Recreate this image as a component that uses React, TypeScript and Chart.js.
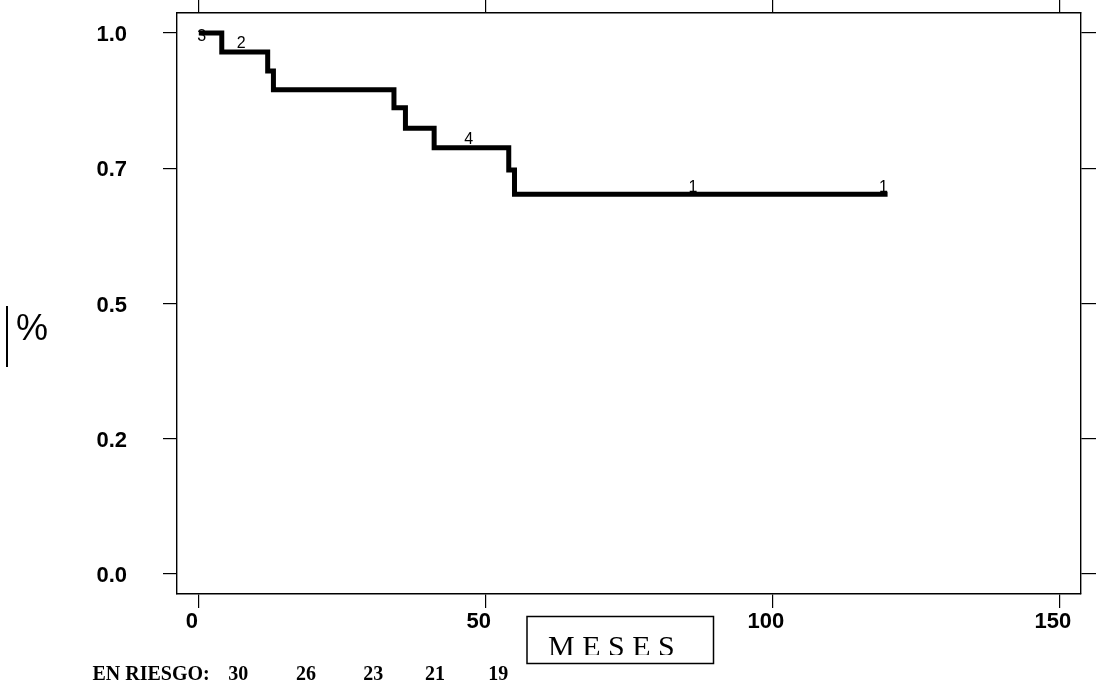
import React, { useEffect, useRef } from "react";
import { Chart, registerables } from "chart.js";

Chart.register(...registerables);

const xTicks = [0, 50, 100, 150];
const yTicks = [0, 0.25, 0.5, 0.75, 1];
const yTickLabels = ["0.0", "0.2", "0.5", "0.7", "1.0"];

const eventTimes = [0, 4, 12, 13, 34, 36, 41, 54, 55, 120];
const survival = [1.0, 0.965, 0.93, 0.895, 0.862, 0.824, 0.788, 0.747, 0.702, 0.702];

const censorLabels = ["3", "2", "4", "1", "1"];
const censorTimes = [0.5, 7.4, 47, 86.1, 119.3];
const censorSurv = [0.994, 0.981, 0.803, 0.715, 0.715];

const riskTitle = "EN RIESGO:";
const atRisk = [30, 26, 23, 21, 19];
const xTitle = "M E S E S";
const yTitle = "%";

const X_MIN = -3.8;
const X_MAX = 153.7;
const Y_MIN = -0.037;
const Y_MAX = 1.037;

const SANS = '"Liberation Sans", Arial, Helvetica, sans-serif';
const SERIF = '"Liberation Serif", "Times New Roman", serif';

const annotations = {
  id: "annotations",
  afterDraw(chart: any) {
    const ctx = chart.ctx as CanvasRenderingContext2D;
    const xs = chart.scales.x;
    const ys = chart.scales.y;
    ctx.save();
    ctx.fillStyle = "#000";
    ctx.strokeStyle = "#000";

    // labels on the curve
    ctx.font = `16px ${SANS}`;
    ctx.textAlign = "center";
    ctx.textBaseline = "middle";
    censorLabels.forEach((lab, i) => {
      ctx.fillText(lab, xs.getPixelForValue(censorTimes[i]), ys.getPixelForValue(censorSurv[i]));
    });

    // y title
    ctx.font = `36px ${SANS}`;
    ctx.textAlign = "center";
    ctx.textBaseline = "middle";
    ctx.fillText(yTitle, 32, 330);
    ctx.lineWidth = 2;
    ctx.beginPath();
    ctx.moveTo(7, 306);
    ctx.lineTo(7, 367);
    ctx.stroke();

    // x title box
    ctx.lineWidth = 1.5;
    ctx.strokeRect(527, 616.5, 186.5, 47);
    ctx.save();
    ctx.beginPath();
    ctx.rect(528, 617, 184, 38);
    ctx.clip();
    ctx.font = `30px ${SERIF}`;
    ctx.textAlign = "left";
    ctx.textBaseline = "alphabetic";
    ctx.fillText(xTitle, 548, 656);
    ctx.restore();

    // at risk row
    ctx.font = `bold 20px ${SERIF}`;
    ctx.textAlign = "left";
    ctx.textBaseline = "alphabetic";
    ctx.fillText(riskTitle, 92.5, 679.5);
    const riskX = [228.3, 296, 363.3, 425, 488.3];
    atRisk.forEach((n, i) => ctx.fillText(String(n), riskX[i], 679.5));
    ctx.restore();
  },
};

export default function App() {
  const ref = useRef<HTMLCanvasElement | null>(null);
  useEffect(() => {
    if (!ref.current) return;
    const setX = (axis: any) => {
      axis.ticks = xTicks.map((v) => ({ value: v }));
    };
    const setY = (axis: any) => {
      axis.ticks = yTicks.map((v) => ({ value: v }));
    };
    const noPad = (s: any) => {
      s.paddingTop = 0;
      s.paddingBottom = 0;
      s.paddingLeft = 0;
      s.paddingRight = 0;
    };
    const gridBase = {
      drawOnChartArea: false,
      drawTicks: true,
      color: "#000",
      lineWidth: 1.2,
    };
    const border = { display: true, color: "#000", width: 1.4 };
    const chart = new Chart(ref.current, {
      type: "line",
      data: {
        datasets: [
          {
            data: eventTimes.map((t, i) => ({ x: t, y: survival[i] })),
            stepped: "before",
            borderColor: "#000",
            borderWidth: 5,
            pointRadius: 0,
            fill: false,
          },
        ],
      },
      options: {
        responsive: false,
        animation: false,
        devicePixelRatio: 1,
        layout: { padding: 0 },
        plugins: { legend: { display: false }, tooltip: { enabled: false } },
        scales: {
          x: {
            type: "linear",
            position: "bottom",
            min: X_MIN,
            max: X_MAX,
            afterBuildTicks: setX,
            afterFit: (s: any) => {
              s.height = 95;
              noPad(s);
            },
            grid: { ...gridBase, tickLength: 14 },
            border,
            ticks: {
              color: "#000",
              font: { family: SANS, weight: "bold", size: 22 },
              padding: 1,
              labelOffset: -7,
              maxRotation: 0,
              autoSkip: false,
            },
          },
          x2: {
            type: "linear",
            position: "top",
            min: X_MIN,
            max: X_MAX,
            afterBuildTicks: setX,
            afterFit: (s: any) => {
              s.height = 13;
              noPad(s);
            },
            grid: { ...gridBase, tickLength: 13 },
            border,
            ticks: { display: false },
          },
          y: {
            type: "linear",
            position: "left",
            min: Y_MIN,
            max: Y_MAX,
            afterBuildTicks: setY,
            afterFit: (s: any) => {
              s.width = 177;
              noPad(s);
            },
            grid: { ...gridBase, tickLength: 14 },
            border,
            ticks: {
              color: "#000",
              font: { family: SANS, weight: "bold", size: 22 },
              padding: 36,
              labelOffset: 2,
              autoSkip: false,
              callback: (_v: any, i: number) => yTickLabels[i],
            },
          },
          y2: {
            type: "linear",
            position: "right",
            min: Y_MIN,
            max: Y_MAX,
            afterBuildTicks: setY,
            afterFit: (s: any) => {
              s.width = 15;
              noPad(s);
            },
            grid: { ...gridBase, tickLength: 15 },
            border,
            ticks: { display: false },
          },
        },
      },
      plugins: [annotations],
    });
    return () => chart.destroy();
  }, []);
  return (
    <div style={{ position: "absolute", left: 0, top: 0, width: 1096, height: 689, background: "#fff" }}>
      <canvas ref={ref} width={1096} height={689} style={{ display: "block" }} />
    </div>
  );
}
